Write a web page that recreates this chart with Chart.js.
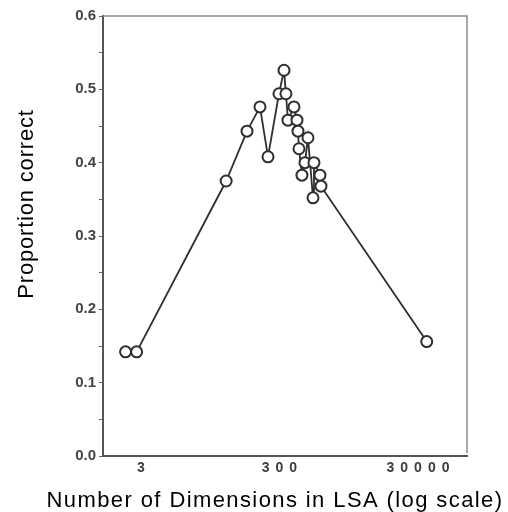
<!DOCTYPE html>
<html>
<head>
<meta charset="utf-8">
<script src="https://cdn.jsdelivr.net/npm/chart.js@4.4.1/dist/chart.umd.min.js"></script>
<style>
  html, body { margin: 0; padding: 0; background: #fff; }
  #wrap { width: 508px; height: 512px; }
</style>
</head>
<body>
<div id="wrap"><canvas id="lsaChart" width="508" height="512"></canvas></div>
<script>
// 次元数 (対数軸) と正答率
const dimensions = [1.8, 2.6, 51, 102, 157, 205, 295, 349, 372, 398, 486, 537, 555, 574, 634, 700, 774, 915, 945, 1153, 1192, 40100];
const proportionCorrect = [0.142, 0.142, 0.375, 0.443, 0.476, 0.408, 0.494, 0.526, 0.494, 0.458, 0.476, 0.458, 0.443, 0.419, 0.383, 0.400, 0.434, 0.352, 0.400, 0.383, 0.368, 0.156];
const xTickValues = [3, 300, 30000];
const xTickLabels = ['3', '300', '30000'];
const xTitle = 'Number of Dimensions in LSA (log scale)';
const yTitle = 'Proportion correct';

const points = dimensions.map((d, i) => ({ x: d, y: proportionCorrect[i] }));

const FONT = '"Liberation Sans", Arial, sans-serif';

// 枠線・X軸ラベル・軸タイトルを描くプラグイン
const framePlugin = {
    id: 'frame',
    afterDraw: (chart) => {
        const { ctx, chartArea: { top, bottom, left, right } } = chart;
        const xScale = chart.scales.x;
        ctx.save();

        // 上と右の枠
        ctx.strokeStyle = '#8a8a8a';
        ctx.lineWidth = 1.5;
        ctx.beginPath();
        ctx.moveTo(left, top);
        ctx.lineTo(right, top);
        ctx.lineTo(right, bottom - 3);
        ctx.stroke();

        // X軸の目盛りラベル (字間を広げる)
        ctx.fillStyle = '#3c3c3c';
        ctx.font = 'bold 14px ' + FONT;
        ctx.letterSpacing = '6px';
        ctx.textAlign = 'center';
        ctx.textBaseline = 'middle';
        xTickValues.forEach((v, i) => {
            const px = xScale.getPixelForValue(v);
            ctx.fillText(xTickLabels[i], px + 3, 468);
        });

        // 軸タイトル
        ctx.fillStyle = '#000';
        ctx.font = '22px ' + FONT;
        ctx.textBaseline = 'alphabetic';
        ctx.letterSpacing = '1.4px';
        ctx.fillText(xTitle, 275, 507);

        ctx.letterSpacing = '0.8px';
        ctx.translate(33, 204);
        ctx.rotate(-Math.PI / 2);
        ctx.fillText(yTitle, 0, 0);
        ctx.restore();
    }
};

const ctx = document.getElementById('lsaChart').getContext('2d');

new Chart(ctx, {
    type: 'scatter',
    data: {
        datasets: [{
            data: points,
            showLine: true,
            borderColor: '#2e2e2e',
            borderWidth: 1.8,
            pointRadius: 5.5,
            pointBorderWidth: 2,
            pointBackgroundColor: '#fff',
            pointBorderColor: '#2e2e2e',
            tension: 0
        }]
    },
    options: {
        responsive: false,
        animation: false,
        layout: { padding: { top: 16, right: 41, left: 0, bottom: 0 } },
        plugins: {
            legend: { display: false },
            tooltip: { enabled: false }
        },
        scales: {
            x: {
                type: 'logarithmic',
                min: 0.85,
                max: 153000,
                afterBuildTicks: (scale) => {
                    scale.ticks = xTickValues.map(v => ({ value: v }));
                },
                afterFit: (scale) => { scale.height = 56; },
                ticks: { display: false },
                grid: { display: false },
                border: { display: true, color: '#555', width: 2 }
            },
            y: {
                min: 0,
                max: 0.6,
                afterFit: (scale) => { scale.width = 103; },
                ticks: {
                    stepSize: 0.05,
                    padding: 3,
                    color: '#444',
                    font: { family: FONT, size: 15, weight: 'bold' },
                    callback: (value) => {
                        const r = Math.round(value * 100);
                        return r % 10 === 0 ? (r / 100).toFixed(1) : '';
                    }
                },
                grid: {
                    drawOnChartArea: false,
                    drawTicks: true,
                    tickLength: 4,
                    color: '#666'
                },
                border: { display: true, color: '#555', width: 2 }
            }
        }
    },
    plugins: [framePlugin]
});
</script>
</body>
</html>
